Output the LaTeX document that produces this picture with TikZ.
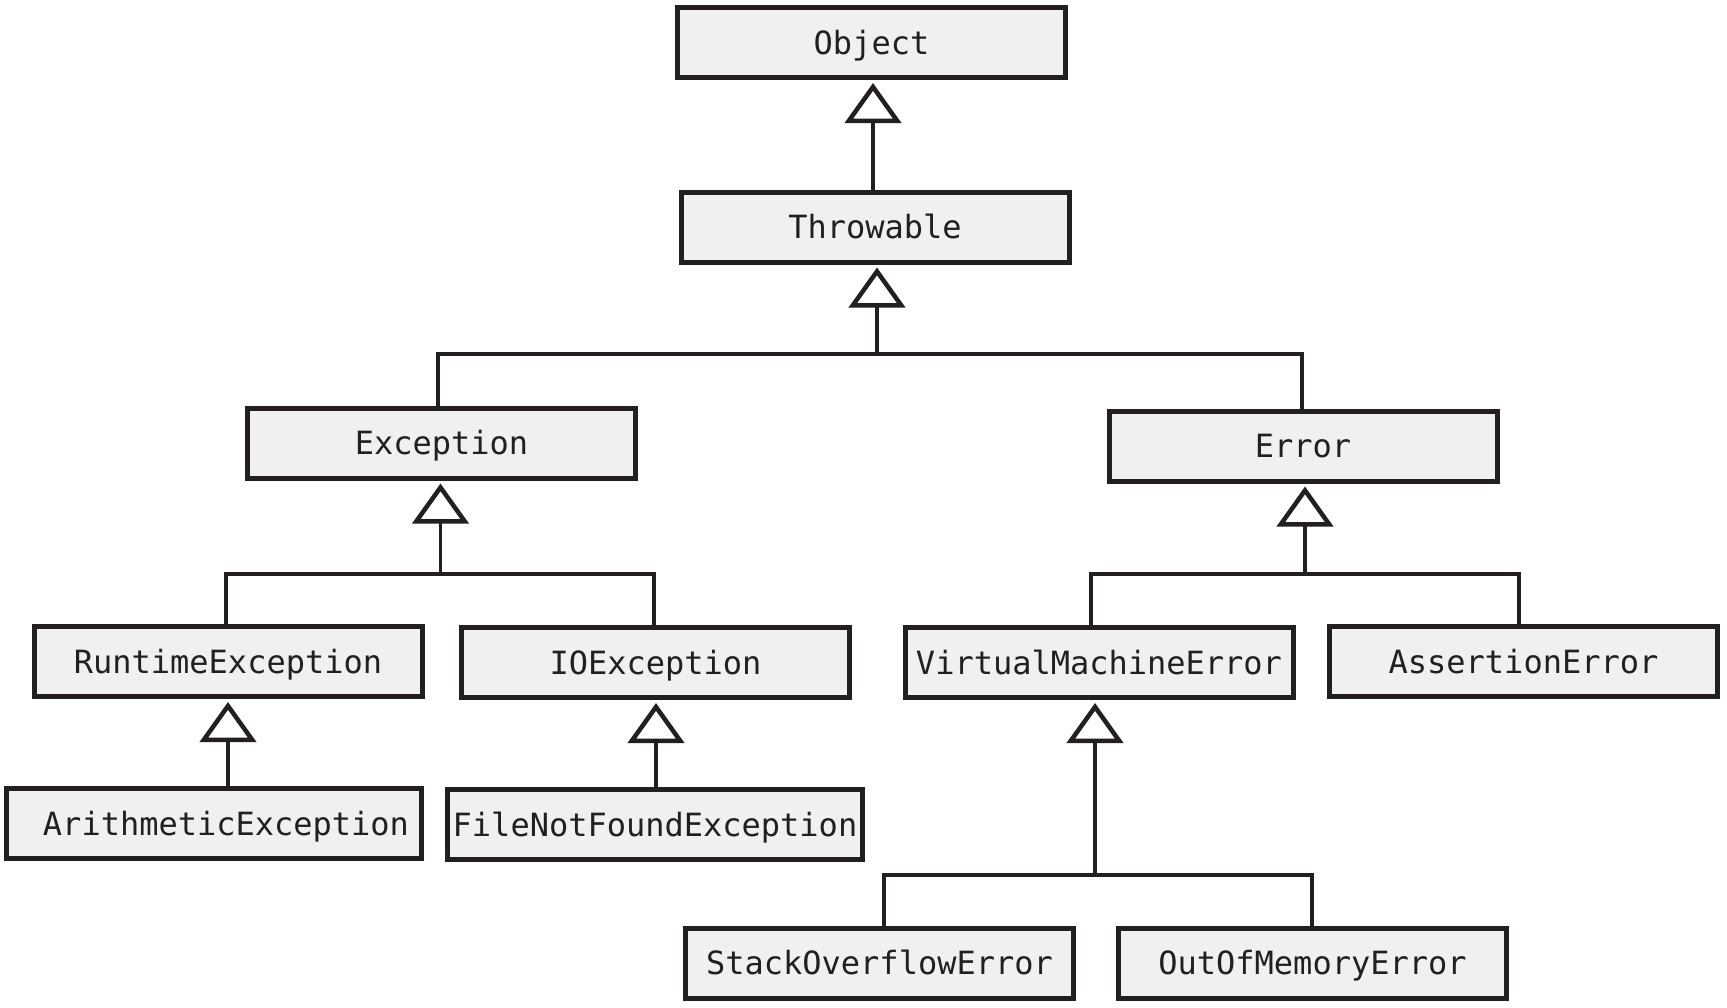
\documentclass[tikz,border=0pt]{standalone}
\usepackage{fontspec}
\usetikzlibrary{arrows.meta}
\newfontfamily\clsfont{DejaVu Sans Mono}
\definecolor{ink}{HTML}{231F20}
\definecolor{boxgray}{HTML}{F0F0F0}
\begin{document}
\begin{tikzpicture}[x=0.5pt,y=-0.5pt,
  cls/.style={draw=ink, fill=boxgray, line width=2.5pt, minimum width=194pt,
    minimum height=35pt, inner sep=0pt, text=ink, text height=11.7pt, text depth=0pt,
    font={\clsfont\fontsize{16pt}{18pt}\selectfont}},
  widecls/.style={cls, minimum width=207.5pt},
  conn/.style={draw=ink, line width=1.75pt},
  gen/.style={conn, -{Triangle[open, width=28pt, length=20pt, line width=2.25pt]}, shorten >=1.5pt}]
\useasboundingbox (0,0) rectangle (1727,1007);
% classes
\node[cls] (obj) at (871.5,42.5) {Object};
\node[cls] (thr) at (875,227) {Throwable};
\node[cls] (exc) at (441.5,443) {Exception};
\node[cls] (err) at (1303,446) {Error};
\node[cls] (rte) at (228,661.5) {RuntimeException};
\node[cls] (ioe) at (655.5,662.5) {IOException};
\node[cls] (vme) at (1099,662.5) {VirtualMachineError};
\node[cls] (ase) at (1523.5,661.5) {AssertionError};
\node[widecls] (ari) at (214,823.5) {\hspace*{12pt}ArithmeticException};
\node[widecls] (fnf) at (655,824.5) {FileNotFoundException};
\node[cls] (soe) at (879.5,963) {StackOverflowError};
\node[cls] (oom) at (1312.5,963) {OutOfMemoryError};
% junctions
\coordinate (jt) at (877,354);
\coordinate (je) at (440.5,574);
\coordinate (jr) at (1305,574);
\coordinate (jv) at (1095,875);
% Object <- Throwable
\draw[gen] (thr.north -| 873,0) -- (obj.south -| 873,0);
% Throwable <- Exception, Error
\draw[gen] (jt) -- (thr.south -| jt);
\draw[conn] (exc.north -| 438,0) |- (jt) -| (err.north -| 1302,0);
% Exception <- RuntimeException, IOException
\draw[gen] (je) -- (exc.south -| je);
\draw[conn] (rte.north -| 226,0) |- (je) -| (ioe.north -| 654,0);
% Error <- VirtualMachineError, AssertionError
\draw[gen] (jr) -- (err.south -| jr);
\draw[conn] (vme.north -| 1091,0) |- (jr) -| (ase.north -| 1519,0);
% RuntimeException <- ArithmeticException
\draw[gen] (ari.north -| 228,0) -- (rte.south -| 228,0);
% IOException <- FileNotFoundException
\draw[gen] (fnf.north -| 656,0) -- (ioe.south -| 656,0);
% VirtualMachineError <- StackOverflowError, OutOfMemoryError
\draw[gen] (jv) -- (vme.south -| jv);
\draw[conn] (soe.north -| 884,0) |- (jv) -| (oom.north -| 1312,0);
\end{tikzpicture}
\end{document}
